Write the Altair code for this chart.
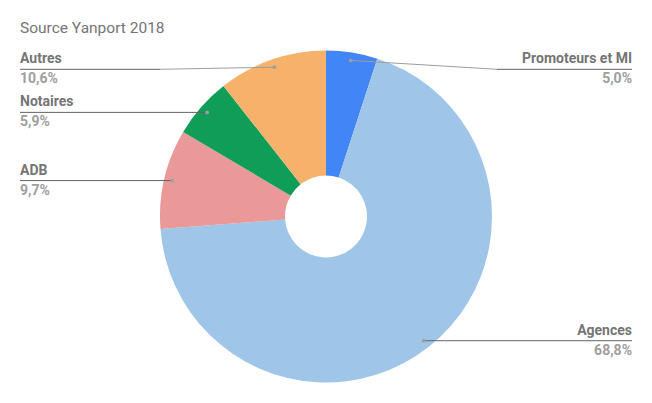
import altair as alt
import pandas as pd

# ---- data ----
categories = ["Promoteurs et MI", "Agences", "ADB", "Notaires", "Autres"]
values = [5.0, 68.8, 9.7, 5.9, 10.6]
value_labels = ["5,0%", "68,8%", "9,7%", "5,9%", "10,6%"]
colors = ["#4285F4", "#9FC5E8", "#EA9999", "#0F9D58", "#F6B26B"]
title_text = ["Source Yanport 2018"]

# ---- layout ----
W, H = 652, 403
CX, CY = 326, 216.5
R_OUT, R_IN, R_DOT = 166, 41, 158
LEFT_X, RIGHT_X = 20, 632
label_line_y = {"Promoteurs et MI": 69.3, "Autres": 69.3}
elbow_x = {"Promoteurs et MI": 497, "Autres": 160}

df = pd.DataFrame({
    "category": categories,
    "value": values,
    "label": value_labels,
    "order": list(range(len(categories))),
})
df["ly"] = [label_line_y.get(c) for c in categories]
df["ex"] = [elbow_x.get(c) for c in categories]

xs = alt.Scale(domain=[0, W], nice=False, zero=False)
ys = alt.Scale(domain=[0, H], nice=False, zero=False, reverse=True)

base = (
    alt.Chart(df)
    .transform_joinaggregate(total="sum(value)")
    .transform_window(cum="sum(value)", sort=[alt.SortField("order")], frame=[None, 0])
    .transform_calculate(
        mid="(datum.cum - datum.value / 2) / datum.total * 2 * PI",
        px=f"{CX} + {R_DOT} * sin(datum.mid)",
        py=f"{CY} - {R_DOT} * cos(datum.mid)",
        right="datum.mid < PI",
        lineY="isValid(datum.ly) ? datum.ly : datum.py",
        elbowX="isValid(datum.ex) ? datum.ex : datum.px",
        endX=f"datum.mid < PI ? {RIGHT_X} : {LEFT_X}",
    )
)

arc = alt.Chart(df).mark_arc(outerRadius=R_OUT, innerRadius=R_IN, strokeWidth=0).encode(
    theta=alt.Theta("value:Q", stack=True),
    order=alt.Order("order:Q"),
    color=alt.Color("category:N", scale=alt.Scale(domain=categories, range=colors), legend=None),
    x=alt.value(CX),
    y=alt.value(CY),
)

seg1 = base.mark_rule(color="#9e9e9e", strokeWidth=1).encode(
    x=alt.X("px:Q", scale=xs, axis=None),
    y=alt.Y("py:Q", scale=ys, axis=None),
    x2="elbowX:Q",
    y2="lineY:Q",
)
seg2 = base.mark_rule(color="#636363", strokeWidth=1).encode(
    x=alt.X("elbowX:Q", scale=xs, axis=None),
    y=alt.Y("lineY:Q", scale=ys, axis=None),
    x2="endX:Q",
    y2="lineY:Q",
)
dots = base.mark_circle(color="#9e9e9e", opacity=1, size=14).encode(
    x=alt.X("px:Q", scale=xs, axis=None),
    y=alt.Y("py:Q", scale=ys, axis=None),
)

def texts(side_filter, align):
    name = base.transform_filter(side_filter).mark_text(
        align=align, baseline="alphabetic", dy=-6, font="Roboto", fontSize=14,
        fontWeight="bold", color="#757575",
    ).encode(
        x=alt.X("endX:Q", scale=xs, axis=None),
        y=alt.Y("lineY:Q", scale=ys, axis=None),
        text="category:N",
    )
    val = base.transform_filter(side_filter).mark_text(
        align=align, baseline="alphabetic", dy=14, font="Roboto", fontSize=14,
        fontWeight="bold", color="#9e9e9e",
    ).encode(
        x=alt.X("endX:Q", scale=xs, axis=None),
        y=alt.Y("lineY:Q", scale=ys, axis=None),
        text="label:N",
    )
    return [name, val]

title = alt.Chart(pd.DataFrame({"t": title_text})).mark_text(
    align="left", baseline="alphabetic", font="Roboto", fontSize=15.5,
    fontWeight="normal", color="#757575",
).encode(x=alt.value(LEFT_X), y=alt.value(33), text="t:N")

layers = [arc, seg1, seg2, dots] + texts("datum.right", "right") + texts("!datum.right", "left") + [title]

chart = (
    alt.layer(*layers)
    .properties(
        width=W,
        height=H,
        autosize=alt.AutoSizeParams(type="none"),
        padding=0,
    )
    .configure(background="white", view=alt.ViewConfig(strokeWidth=0, stroke="transparent"))
)

chart.save("out.html", embed_options={"renderer": "svg", "actions": False})
